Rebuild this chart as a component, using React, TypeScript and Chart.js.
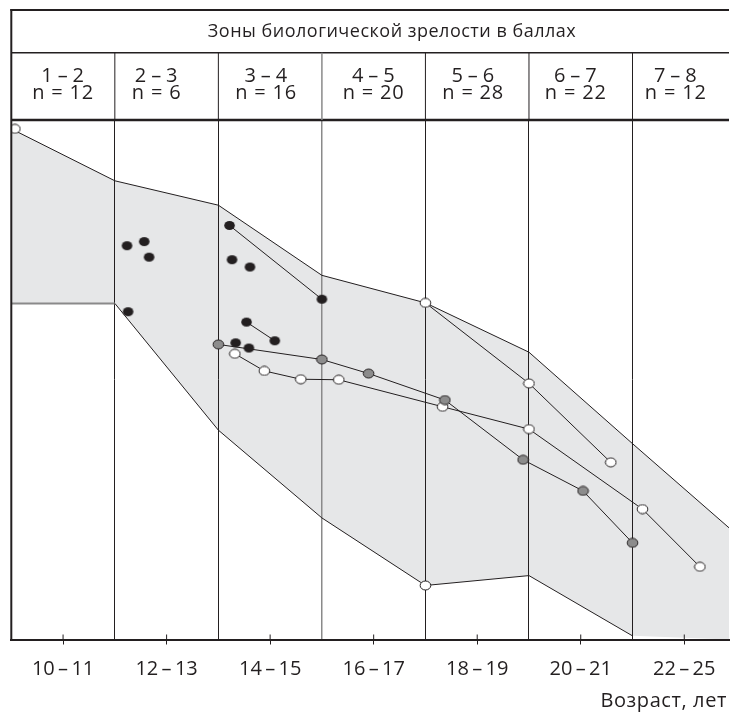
import React, { useEffect, useRef } from "react";
import { Chart, registerables } from "chart.js";

Chart.register(...registerables);

// ---------- data ----------
const headerTitle = "Зоны биологической зрелости в баллах";
const zoneLabels = ["1–2", "2–3", "3–4", "4–5", "5–6", "6–7", "7–8"];
const zoneCounts = [12, 6, 16, 20, 28, 22, 12];
const ageLabels = ["10–11", "12–13", "14–15", "16–17", "18–19", "20–21", "22–25"];
const axisTitle = "Возраст, лет";

// band of the norm (upper and lower edges)
const bandUpperX = [0, 1, 2, 3, 4, 5, 6, 6.932];
const bandUpperY = [98.3, 88.3, 83.6, 70.1, 64.8, 55.3, 37.7, 21.5];
const bandLowerX = [0, 1, 2, 3, 4, 5, 6, 6.932];
const bandLowerY = [64.7, 64.7, 40.3, 23.4, 10.4, 12.3, 0.7, 0];

// black points
const blackIsoX = [1.118, 1.284, 1.331, 1.128, 2.132, 2.305, 2.167, 2.295];
const blackIsoY = [75.8, 76.6, 73.6, 63.1, 73.1, 71.7, 57.1, 56.1];
const blackChain1X = [2.108, 3.0];
const blackChain1Y = [79.7, 65.5];
const blackChain2X = [2.272, 2.545];
const blackChain2Y = [61.1, 57.5];

// grey points
const greyChainX = [2.0, 3.0, 3.451, 4.188, 4.943, 5.522, 6.0];
const greyChainY = [56.8, 53.9, 51.2, 46.1, 34.6, 28.6, 18.6];

// white points
const whiteChainAX = [4.0, 5.0, 5.79];
const whiteChainAY = [64.8, 49.3, 34.1];
const whiteChainBX = [2.159, 2.444, 2.796, 3.163, 4.166, 5.0, 6.096, 6.651];
const whiteChainBY = [55.0, 51.7, 50.1, 50.0, 44.8, 40.5, 25.1, 14.0];
const whiteIsoX = [0.035, 4.0];
const whiteIsoY = [98.3, 10.4];

// ---------- style ----------
const DARK = "#231f20";
const GREY_LINE = "#8a8a8a";
const BAND = "#e6e7e8";
const FONT = '"Open Sans", "Noto Sans", sans-serif';
const X_MAX = 6.932;
const labelNudge = [0, -10, -4, 0, -4, -5, -5];
const TS = "\u2009"; // thin space around dashes

const spaced = (s: string) => s.replace("–", `${TS}–${TS}`);
const pts = (xs: number[], ys: number[]) => xs.map((x, i) => ({ x, y: ys[i] }));

function ellipse(fill: string, stroke: string | null) {
  const c = document.createElement("canvas");
  c.width = 13;
  c.height = 11;
  const g = c.getContext("2d")!;
  g.beginPath();
  g.ellipse(6.5, 5.5, 5.3, 4.5, 0, 0, Math.PI * 2);
  g.fillStyle = fill;
  g.fill();
  if (stroke) {
    g.lineWidth = 1;
    g.strokeStyle = stroke;
    g.stroke();
  }
  return c;
}

export default function App() {
  const ref = useRef<HTMLCanvasElement | null>(null);

  useEffect(() => {
    const canvas = ref.current!;
    const black = ellipse(DARK, null);
    const grey = ellipse("#8c8c8c", DARK);
    const white = ellipse("#ffffff", DARK);

    const series = (xs: number[], ys: number[], marker: HTMLCanvasElement, line: boolean) => ({
      type: "line" as const,
      data: pts(xs, ys),
      showLine: line,
      borderColor: DARK,
      borderWidth: 1,
      pointStyle: marker,
      pointRadius: 5,
      fill: false,
      order: 1,
    });

    const zoneLines = [1, 2, 3, 4, 5, 6];
    const agePos = ageLabels.map((_, i) => i + 0.5);
    const tickVals = [...zoneLines, ...agePos].sort((a, b) => a - b);

    const frame = {
      id: "frame",
      afterDraw(chart: any) {
        const { ctx, chartArea } = chart;
        const xs = chart.scales.x;
        const L = chartArea.left;
        const R = chartArea.right;
        const T = chartArea.top;
        const B = chartArea.bottom;
        const rowTop = 10;
        const rowMid = 52.7;
        ctx.save();
        ctx.strokeStyle = DARK;
        ctx.lineCap = "butt";
        // horizontal lines of the header table
        ctx.lineWidth = 2;
        ctx.beginPath(); ctx.moveTo(L - 1, rowTop); ctx.lineTo(R, rowTop); ctx.stroke();
        ctx.lineWidth = 1.5;
        ctx.beginPath(); ctx.moveTo(L, rowMid); ctx.lineTo(R, rowMid); ctx.stroke();
        ctx.lineWidth = 2.5;
        ctx.beginPath(); ctx.moveTo(L, T); ctx.lineTo(R, T); ctx.stroke();
        // left border
        ctx.lineWidth = 2;
        ctx.beginPath(); ctx.moveTo(L, rowTop - 1); ctx.lineTo(L, B + 1); ctx.stroke();
        // header column separators
        zoneLines.forEach((v) => {
          const px = xs.getPixelForValue(v);
          ctx.strokeStyle = v === 3 ? GREY_LINE : DARK;
          ctx.lineWidth = v === 3 ? 1.5 : 1;
          ctx.beginPath(); ctx.moveTo(px, rowMid); ctx.lineTo(px, T); ctx.stroke();
        });
        // inner halves of the age ticks
        ctx.strokeStyle = DARK;
        ctx.lineWidth = 1;
        agePos.forEach((v) => {
          const px = xs.getPixelForValue(v);
          ctx.beginPath(); ctx.moveTo(px, B - 5); ctx.lineTo(px, B); ctx.stroke();
        });
        // texts
        ctx.fillStyle = DARK;
        ctx.textAlign = "center";
        ctx.textBaseline = "alphabetic";
        ctx.font = `18px ${FONT}`;
        ctx.letterSpacing = "0.5px";
        ctx.fillText(headerTitle, 392, 37);
        ctx.font = `20px ${FONT}`;
        ctx.letterSpacing = "0.8px";
        zoneLabels.forEach((lab, i) => {
          const a = xs.getPixelForValue(i);
          const b = Math.min(xs.getPixelForValue(i + 1), R);
          const cx = (a + b) / 2 + labelNudge[i];
          ctx.fillText(spaced(lab), cx, 81.5);
          ctx.fillText(`n = ${zoneCounts[i]}`, cx, 99);
        });
        ctx.textAlign = "right";
        ctx.letterSpacing = "0.6px";
        ctx.fillText(axisTitle, 727, 707);
        ctx.restore();
      },
    };

    const chart = new Chart(canvas, {
      type: "line",
      data: {
        datasets: [
          {
            data: pts(bandUpperX, bandUpperY),
            borderColor: DARK,
            borderWidth: 1,
            pointRadius: 0,
            fill: "+1",
            backgroundColor: BAND,
            order: 10,
          } as any,
          {
            data: pts(bandLowerX, bandLowerY),
            borderColor: DARK,
            borderWidth: 1,
            pointRadius: 0,
            fill: false,
            order: 10,
            segment: {
              borderColor: (c: any) =>
                c.p0DataIndex === 0 ? GREY_LINE : c.p0DataIndex >= 6 ? "rgba(0,0,0,0)" : DARK,
              borderWidth: (c: any) => (c.p0DataIndex === 0 ? 2 : 1),
            },
          } as any,
          series(blackChain1X, blackChain1Y, black, true),
          series(blackChain2X, blackChain2Y, black, true),
          series(blackIsoX, blackIsoY, black, false),
          series(greyChainX, greyChainY, grey, true),
          series(whiteChainAX, whiteChainAY, white, true),
          series(whiteChainBX, whiteChainBY, white, true),
          series(whiteIsoX, whiteIsoY, white, false),
        ] as any,
      },
      options: {
        responsive: false,
        animation: false,
        events: [],
        layout: { padding: { left: 11.3, top: 120, right: 0, bottom: 0 } },
        plugins: {
          legend: { display: false },
          tooltip: { enabled: false },
          filler: { drawTime: "beforeDraw" } as any,
        },
        scales: {
          x: {
            type: "linear",
            min: 0,
            max: X_MAX,
            afterBuildTicks: (s: any) => {
              s.ticks = tickVals.map((v) => ({ value: v }));
            },
            afterFit: (s: any) => {
              s.height = 74.5;
            },
            ticks: {
              autoSkip: false,
              maxRotation: 0,
              minRotation: 0,
              padding: 13,
              color: DARK,
              font: { family: FONT, size: 20 },
              callback: (v: any) => {
                const i = agePos.indexOf(Number(v));
                return i >= 0 ? spaced(ageLabels[i]) : "";
              },
            },
            grid: {
              color: (c: any) => {
                const v = c.tick?.value;
                if (!zoneLines.includes(v)) return "rgba(0,0,0,0)";
                return v === 3 ? GREY_LINE : DARK;
              },
              lineWidth: (c: any) => (c.tick?.value === 3 ? 1.5 : 1),
              tickColor: (c: any) => (agePos.includes(c.tick?.value) ? DARK : "rgba(0,0,0,0)"),
              tickLength: 5,
              tickWidth: 1,
              drawOnChartArea: true,
              drawTicks: true,
            },
            border: { display: true, color: DARK, width: 2 },
          },
          y: {
            type: "linear",
            min: 0,
            max: 100,
            display: false,
          },
        },
      },
      plugins: [frame],
    });

    return () => chart.destroy();
  }, []);

  return (
    <div style={{ position: "absolute", left: 0, top: 0, width: 735, height: 714, background: "#fff" }}>
      <canvas ref={ref} width={735} height={714} style={{ display: "block" }} />
    </div>
  );
}
